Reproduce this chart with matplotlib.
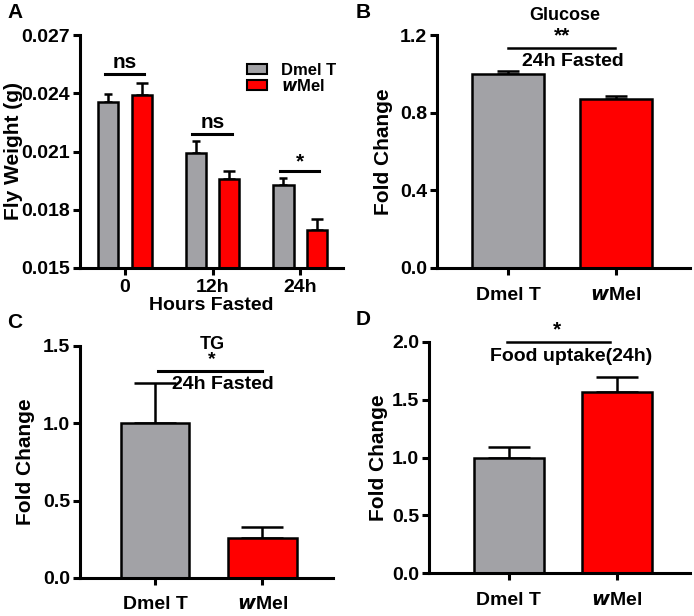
import matplotlib
matplotlib.use('Agg')
import matplotlib.pyplot as plt
from matplotlib.patches import Patch

plt.rcParams['font.family'] = ['Liberation Sans', 'DejaVu Sans']
plt.rcParams['font.weight'] = 'bold'
plt.rcParams['axes.labelweight'] = 'bold'

GRAY = '#a2a2a6'
RED = '#ff0000'

# Panel A: fly weight over fasting
hours = ['0', '12h', '24h']
dmel_weight = [0.02355, 0.02093, 0.01928]
dmel_weight_err = [0.0004, 0.0006, 0.00036]
wmel_weight = [0.0239, 0.01959, 0.01697]
wmel_weight_err = [0.00065, 0.00043, 0.00056]

# Panels B-D: fold change
groups = ['Dmel T', 'wMel']
glucose = [1.0, 0.869]
glucose_err = [0.015, 0.017]
tg = [1.0, 0.26]
tg_err = [0.26, 0.07]
food = [1.0, 1.567]
food_err = [0.087, 0.13]

fig = plt.figure(figsize=(6.94, 6.16), dpi=100)
W, H = 694, 616


def add_ax(l, t, r, b):
    return fig.add_axes([l / W, 1 - b / H, (r - l) / W, (b - t) / H])


def style(ax):
    for s in ['top', 'right']:
        ax.spines[s].set_visible(False)
    for s in ['left', 'bottom']:
        ax.spines[s].set_linewidth(2.2)
    ax.tick_params(width=2.2, length=5, labelsize=14)
    ax.tick_params(axis='y', pad=2)


def err(ax, x, y, e, cap):
    ax.errorbar(x, y, yerr=[[0] * len(e), e], fmt='none', ecolor='black',
                elinewidth=1.8, capsize=cap, capthick=1.8, zorder=1)


def xlabels(ax, pad):
    ax.set_xticks(range(len(groups)))
    ax.set_xticklabels(['Dmel T', r'$\boldsymbol{w}$Mel'])
    ax.tick_params(axis='x', pad=pad)


# ---------------- A ----------------
ax = add_ax(80, 35, 343, 268)
style(ax)
x = list(range(len(hours)))
xd = [i - 0.19 for i in x]
xw = [i + 0.19 for i in x]
ax.bar(xd, dmel_weight, width=0.23, color=GRAY, edgecolor='black', linewidth=1.8, zorder=2)
ax.bar(xw, wmel_weight, width=0.23, color=RED, edgecolor='black', linewidth=1.8, zorder=2)
err(ax, xd, dmel_weight, dmel_weight_err, 3)
err(ax, xw, wmel_weight, wmel_weight_err, 4)
ax.set_ylim(0.015, 0.027)
ax.set_yticks([0.015, 0.018, 0.021, 0.024, 0.027])
ax.set_yticklabels(['0.015', '0.018', '0.021', '0.024', '0.027'])
ax.set_xlim(-0.514, 2.49)
ax.set_xticks(x)
ax.set_xticklabels(hours)
ax.tick_params(axis='x', pad=3)
ax.set_ylabel('Fly Weight (g)', fontsize=15, labelpad=-1)
ax.set_xlabel('Hours Fasted', fontsize=14, labelpad=1)
for xi, yl, lab, y0 in [(0, 0.02498, 'ns', 0.0251), (1, 0.0219, 'ns', 0.0220), (2, 0.0200, '*', 0.0200)]:
    ax.plot([xi - 0.23, xi + 0.22], [yl, yl], color='black', lw=2.2, clip_on=False)
    ax.text(xi, y0, lab, ha='center', va='bottom', fontsize=15)
leg = ax.legend(handles=[Patch(facecolor=GRAY, edgecolor='black', linewidth=1.5, label='Dmel T'),
                         Patch(facecolor=RED, edgecolor='black', linewidth=1.5, label=r'$\boldsymbol{w}$Mel')],
                loc='upper right', bbox_to_anchor=(1.03, 0.945), frameon=False, fontsize=12,
                handlelength=1.2, handleheight=0.6, handletextpad=0.8, labelspacing=0.0)

# ---------------- B ----------------
ax = add_ax(437, 35, 690, 268)
style(ax)
ax.bar([0, 1], glucose, width=0.67, color=[GRAY, RED], edgecolor='black', linewidth=1.8, zorder=2)
err(ax, [0, 1], glucose, glucose_err, 8)
ax.set_ylim(0, 1.2)
ax.set_yticks([0.0, 0.4, 0.8, 1.2])
ax.set_xlim(-0.66, 1.69)
xlabels(ax, 9)
ax.set_ylabel('Fold Change', fontsize=15, labelpad=5)
ax.plot([0, 0.99], [1.135, 1.135], color='black', lw=1.8, clip_on=False)
ax.text(0.5, 1.145, '**', ha='center', va='bottom', fontsize=15)
ax.text(0.6, 1.108, '24h Fasted', ha='center', va='top', fontsize=14)
ax.text(0.53, 1.30, 'Glucose', ha='center', va='center', fontsize=13)

# ---------------- C ----------------
ax = add_ax(80, 346, 333, 578)
style(ax)
ax.bar([0, 1], tg, width=0.64, color=[GRAY, RED], edgecolor='black', linewidth=1.8, zorder=2)
err(ax, [0, 1], tg, tg_err, 15)
ax.set_ylim(0, 1.5)
ax.set_yticks([0.0, 0.5, 1.0, 1.5])
ax.set_xlim(-0.70, 1.66)
xlabels(ax, 8)
ax.set_ylabel('Fold Change', fontsize=15, labelpad=6)
ax.plot([0.03, 1.0], [1.34, 1.34], color='black', lw=2.2, clip_on=False)
ax.text(0.63, 1.305, '24h Fasted', ha='center', va='top', fontsize=14)
ax.text(0.53, 1.355, '*', ha='center', va='bottom', fontsize=14)
ax.text(0.53, 1.51, 'TG', ha='center', va='center', fontsize=13)

# ---------------- D ----------------
ax = add_ax(429, 342, 690, 573)
style(ax)
ax.bar([0, 1], food, width=0.65, color=[GRAY, RED], edgecolor='black', linewidth=1.8, zorder=2)
err(ax, [0, 1], food, food_err, 15)
ax.set_ylim(0, 2.0)
ax.set_yticks([0.0, 0.5, 1.0, 1.5, 2.0])
ax.set_xlim(-0.74, 1.68)
xlabels(ax, 9)
ax.set_ylabel('Fold Change', fontsize=15, labelpad=3)
ax.plot([-0.02, 0.94], [2.0, 2.0], color='black', lw=1.8, clip_on=False)
ax.text(0.45, 2.02, '*', ha='center', va='bottom', fontsize=15)
ax.text(0.58, 1.95, 'Food uptake(24h)', ha='center', va='top', fontsize=14)

# panel letters
for lab, px, py in [('A', 7, 12), ('B', 356, 12), ('C', 7, 322), ('D', 356, 320)]:
    fig.text(px / W, 1 - py / H, lab, fontsize=15, fontweight='bold', va='center', ha='left')

fig.savefig('out.png', dpi=100)
